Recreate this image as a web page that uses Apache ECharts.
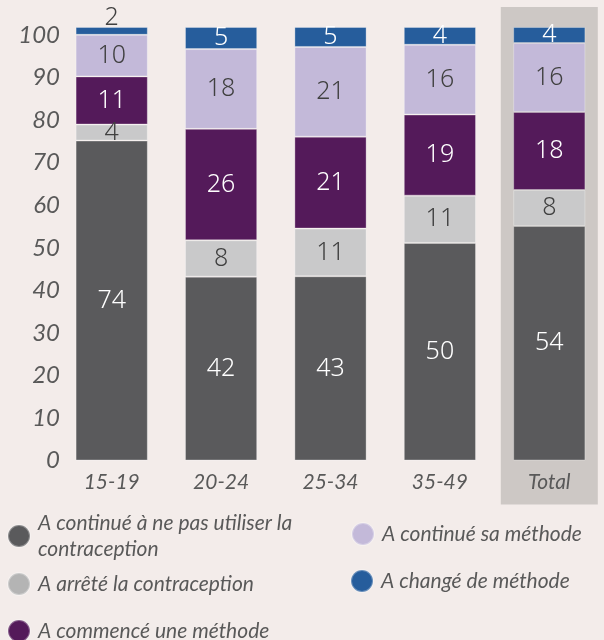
<!DOCTYPE html>
<html>
<head>
<meta charset="utf-8">
<script src="https://cdn.jsdelivr.net/npm/echarts@6/dist/echarts.min.js"></script>
<style>
  html, body { margin: 0; padding: 0; background: #f3ecea; }
  #chart { width: 604px; height: 640px; }
</style>
</head>
<body>
<div id="chart"></div>
<script>
// data (percentages, shown rounded)
const categories = ["15-19", "20-24", "25-34", "35-49", "Total"];
const notUsing = [73.8, 42.4, 42.5, 50.2, 54.1];
const stopped = [3.7, 8.4, 11.0, 10.9, 8.3];
const started = [11.1, 25.7, 21.2, 18.7, 18.0];
const continued = [9.6, 18.4, 20.7, 16.1, 15.9];
const changed = [1.8, 5.1, 4.6, 4.1, 3.7];
const yTicks = [0, 10, 20, 30, 40, 50, 60, 70, 80, 90, 100];

const names = [
  "A continué à ne pas utiliser la contraception",
  "A arrêté la contraception",
  "A commencé une méthode",
  "A continué sa méthode",
  "A changé de méthode"
];
const colors = ["#5a5a5c", "#c9c9ca", "#541a5a", "#c3b9d9", "#265d9c"];
const legendColors = ["#5a5a5c", "#b4b4b4", "#541a5a", "#c3b9d9", "#265d9c"];
const labelColors = ["#ffffff", "#404040", "#ffffff", "#404040", "#ffffff"];

const chart = echarts.init(document.getElementById("chart"));

function makeSeries(idx, values) {
  return {
    name: names[idx],
    type: "bar",
    stack: "all",
    barCategoryGap: "34%",
    data: values,
    itemStyle: {
      color: colors[idx],
      borderColor: "rgba(255,255,255,0.3)",
      borderWidth: 1
    },
    label: {
      show: true,
      position: "inside",
      color: labelColors[idx],
      fontFamily: "Noto Sans",
      fontWeight: 300,
      fontSize: 25,
      formatter: function (p) {
        return Math.round(p.value);
      }
    }
  };
}

const series = [
  makeSeries(0, notUsing),
  makeSeries(1, stopped),
  makeSeries(2, started),
  makeSeries(3, continued),
  makeSeries(4, changed)
];
// the small "2" sits above the first bar
series[4].data = changed.map((v, i) =>
  i === 0
    ? { value: v, label: { position: "top", distance: -3, color: "#404040" } }
    : v
);

const legendText = {
  fontFamily: "Lato",
  fontStyle: "italic",
  fontSize: 21,
  color: "#595959",
  lineHeight: 26,
  padding: [0, 0, 0, 3]
};
function legendFor(idx, left, top) {
  return {
    data: [{ name: names[idx], itemStyle: { color: legendColors[idx] } }],
    left: left,
    top: top,
    padding: 0,
    icon: "circle",
    itemWidth: 22,
    itemHeight: 22,
    itemGap: 0,
    selectedMode: false,
    textStyle: legendText,
    formatter: function (n) {
      return n === names[0] ? "A continué à ne pas utiliser la\ncontraception" : n;
    }
  };
}

const axisFont = {
  fontFamily: "Lato",
  fontStyle: "italic",
  color: "#595959"
};

chart.setOption({
  backgroundColor: "#f3ecea",
  animation: false,
  grid: { left: 57, right: 0, top: 27, bottom: 179.5 },
  legend: [
    legendFor(0, 7, 510),
    legendFor(1, 7, 571),
    legendFor(2, 7, 618),
    legendFor(3, 351, 521),
    legendFor(4, 350, 568)
  ],
  xAxis: {
    type: "category",
    data: categories,
    axisLine: { show: false },
    axisTick: { show: false },
    axisLabel: Object.assign({ margin: 11, fontSize: 21 }, axisFont)
  },
  yAxis: [
    {
      // scale for the bars
      type: "value",
      min: 0,
      max: 100,
      show: false,
      splitLine: { show: false }
    },
    {
      // tick labels (slightly compressed scale, as in the original)
      type: "value",
      position: "left",
      min: yTicks[0],
      max: 101.9,
      interval: 10,
      splitLine: { show: false },
      axisLine: { show: false },
      axisTick: { show: false },
      axisLabel: Object.assign(
        {
          margin: -3,
          fontSize: 24,
          showMaxLabel: false,
          formatter: function (v) {
            return yTicks.indexOf(v) >= 0 ? String(v) : "";
          }
        },
        axisFont
      )
    }
  ],
  series: series
});

// grey highlight behind the Total column
const cx = chart.convertToPixel({ xAxisIndex: 0 }, "Total");
const yTop = chart.convertToPixel({ yAxisIndex: 0 }, 100);
const yZero = chart.convertToPixel({ yAxisIndex: 0 }, 0);
chart.setOption({
  graphic: [
    {
      type: "rect",
      z: -10,
      silent: true,
      shape: { x: cx - 48.5, y: yTop - 20, width: 97, height: yZero + 44 - (yTop - 20) },
      style: { fill: "#cdc8c5" }
    }
  ]
});
</script>
</body>
</html>
